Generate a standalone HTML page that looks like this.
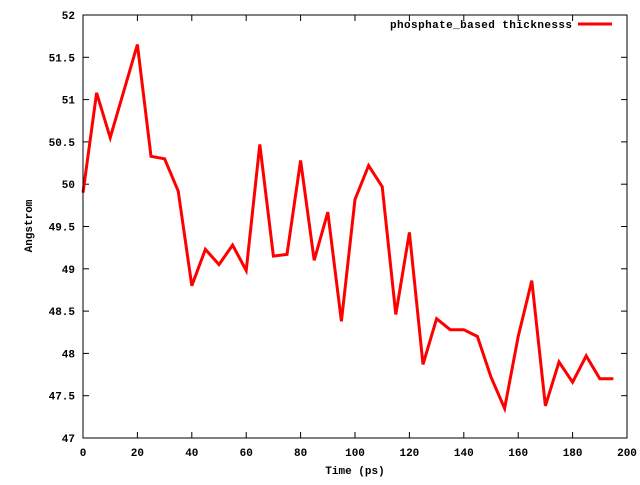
<!DOCTYPE html>
<html><head><meta charset="utf-8"><style>
body{margin:0;background:#fff}
svg text{font-family:"Liberation Mono","DejaVu Sans Mono",monospace;font-size:11px;font-weight:bold;fill:#000}
</style></head><body>
<svg id="chart" width="640" height="480" xmlns="http://www.w3.org/2000/svg">
<g id="axes"></g>
<g id="series"></g>
<rect x="83" y="15" width="544" height="423" fill="none" stroke="#000" stroke-width="1"/>
<text transform="translate(32,226) rotate(-90)" text-anchor="middle">Angstrom</text>
<text x="355" y="474" text-anchor="middle">Time (ps)</text>
<g>
<text x="390" y="28" textLength="182" lengthAdjust="spacing">phosphate_based thicknesss</text>
<line x1="578" y1="24" x2="612" y2="24" stroke="#f00" stroke-width="3"/>
</g>
</svg>
<script>
const times=[0,5,10,15,20,25,30,35,40,45,50,55,60,65,70,75,80,85,90,95,100,105,110,115,120,125,130,135,140,145,150,155,160,165,170,175,180,185,190,195];
const thickness=[49.9,51.08,50.55,51.1,51.65,50.33,50.3,49.92,48.8,49.23,49.05,49.28,48.98,50.47,49.15,49.17,50.28,49.1,49.67,48.38,49.82,50.22,49.97,48.46,49.43,47.87,48.41,48.28,48.28,48.2,47.72,47.35,48.2,48.86,47.38,47.9,47.66,47.97,47.7,47.7];
const xTicks=[0,20,40,60,80,100,120,140,160,180,200];
const yTicks=[47,47.5,48,48.5,49,49.5,50,50.5,51,51.5,52];
const L=83,R=627,T=15,B=438;
const xs=v=>L+(v-0)/200*(R-L);
const ys=v=>B-(v-47)/5*(B-T);
const NS="http://www.w3.org/2000/svg";
const ax=document.getElementById('axes');
function mk(tag,attrs,parent){const e=document.createElementNS(NS,tag);for(const k in attrs)e.setAttribute(k,attrs[k]);parent.appendChild(e);return e;}
xTicks.forEach(t=>{
  const x=xs(t);
  const a=mk('line',{x1:x,y1:B,x2:x,y2:B-6,stroke:'#000'},ax);
  
  
  const b=mk('line',{x1:x,y1:T,x2:x,y2:T+6,stroke:'#000'},ax);
  
  
  const tx=mk('text',{x:x,y:B+18,'text-anchor':'middle'},ax);
  tx.textContent=t;
  
  
});
yTicks.forEach(t=>{
  const y=ys(t);
  const a=mk('line',{x1:L,y1:y,x2:L+6,y2:y,stroke:'#000'},ax);
  
  
  const b=mk('line',{x1:R,y1:y,x2:R-6,y2:y,stroke:'#000'},ax);
  
  
  const tx=mk('text',{x:L-8,y:y+4,'text-anchor':'end'},ax);
  tx.textContent=t;
  
  
});
const pts=times.map((t,i)=>xs(t).toFixed(1)+','+ys(thickness[i]).toFixed(1)).join(' ');
const pl=mk('polyline',{points:pts,fill:'none',stroke:'#f00','stroke-width':3,'stroke-linejoin':'miter'},document.getElementById('series'));


</script>
</body></html>
